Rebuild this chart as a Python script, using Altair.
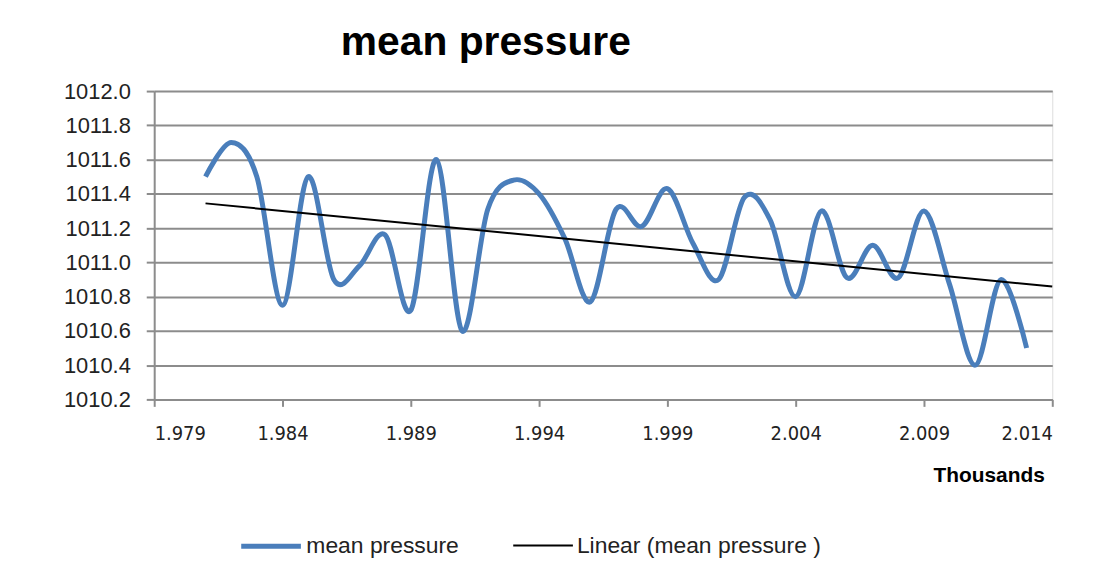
import altair as alt
import pandas as pd

years = list(range(1981, 2014))
pressure = [1011.50, 1011.70, 1011.50, 1010.75, 1011.50, 1010.90, 1010.98, 1011.16,
            1010.72, 1011.60, 1010.60, 1011.31, 1011.48, 1011.40, 1011.14, 1010.77,
            1011.31, 1011.21, 1011.43, 1011.11, 1010.90, 1011.38, 1011.25, 1010.80,
            1011.30, 1010.91, 1011.10, 1010.91, 1011.30, 1010.87, 1010.40, 1010.90,
            1010.50]
series_names = ["mean pressure", "Linear (mean pressure )"]
x_ticks = [1979, 1984, 1989, 1994, 1999, 2004, 2009, 2014]
y_ticks = [1010.2, 1010.4, 1010.6, 1010.8, 1011.0, 1011.2, 1011.4, 1011.6, 1011.8, 1012.0]

df = pd.DataFrame({"year": years, "pressure": pressure, "series": series_names[0]})

BLUE = "#4A7EBB"
GRID = "#8C8C8C"
NARROW = "DejaVu Sans Condensed, Liberation Sans Narrow, Liberation Sans"

x_enc = alt.X(
    "year:Q",
    scale=alt.Scale(domain=[1979, 2014], nice=False, zero=False),
    axis=alt.Axis(
        values=x_ticks,
        labelExpr="format(datum.value / 1000, '.3f')",
        title="Thousands",
        titleFont="Liberation Sans",
        titleFontSize=21,
        titleFontWeight="bold",
        titleColor="#000000",
        titleAnchor="end",
        titleAlign="right",
        titleBaseline="alphabetic",
        titleX=895,
        titleY=83,
        labelFont=NARROW,
        labelFontSize=20,
        labelColor="#222222",
        labelPadding=17,
        tickSize=7,
        tickColor=GRID,
        tickWidth=2,
        domainColor=GRID,
        domainWidth=2,
        grid=False,
    ),
)

y_enc = alt.Y(
    "pressure:Q",
    scale=alt.Scale(domain=[1010.2, 1012.0], nice=False, zero=False),
    axis=alt.Axis(
        values=y_ticks,
        format=".1f",
        title=None,
        labelFont="Liberation Sans",
        labelFontSize=22,
        labelColor="#222222",
        labelPadding=16,
        tickSize=8,
        tickColor=GRID,
        tickWidth=2,
        domainColor=GRID,
        domainWidth=2,
        grid=True,
        gridColor=GRID,
        gridWidth=2,
    ),
)

color_scale = alt.Scale(domain=series_names, range=[BLUE, "#000000"])
width_scale = alt.Scale(domain=series_names, range=[5, 2])
legend = alt.Legend(
    title=None,
    orient="none",
    direction="horizontal",
    legendX=85,
    legendY=425,
    symbolType="stroke",
    symbolSize=3600,
    labelFont="Liberation Sans",
    labelFontSize=23,
    labelColor="#222222",
    labelOffset=3,
    labelLimit=500,
    columnPadding=50,
)

line = alt.Chart(df).mark_line(interpolate="cardinal").encode(
    x=x_enc,
    y=y_enc,
    color=alt.Color("series:N", scale=color_scale, legend=legend),
    strokeWidth=alt.StrokeWidth("series:N", scale=width_scale, legend=legend),
)

trend = (
    alt.Chart(df)
    .transform_regression("year", "pressure", extent=[1981, 2014])
    .transform_calculate(series=f"'{series_names[1]}'")
    .mark_line()
    .encode(
        x=x_enc,
        y=y_enc,
        color=alt.Color("series:N", scale=color_scale, legend=legend),
        strokeWidth=alt.StrokeWidth("series:N", scale=width_scale, legend=legend),
    )
)

chart = (
    alt.layer(line, trend)
    .properties(
        width=903,
        height=310,
        title=alt.TitleParams(
            "mean pressure",
            font="Liberation Sans",
            fontSize=41,
            fontWeight="bold",
            color="#000000",
            anchor="middle",
            dx=-118,
            offset=16,
        ),
        autosize=alt.AutoSizeParams(type="none"),
        padding={"left": 147, "top": 82, "right": 50, "bottom": 170},
    )
    .configure_view(stroke=None)
    .configure(background="white")
)

chart.save("out.html", embed_options={"renderer": "svg", "actions": False})
